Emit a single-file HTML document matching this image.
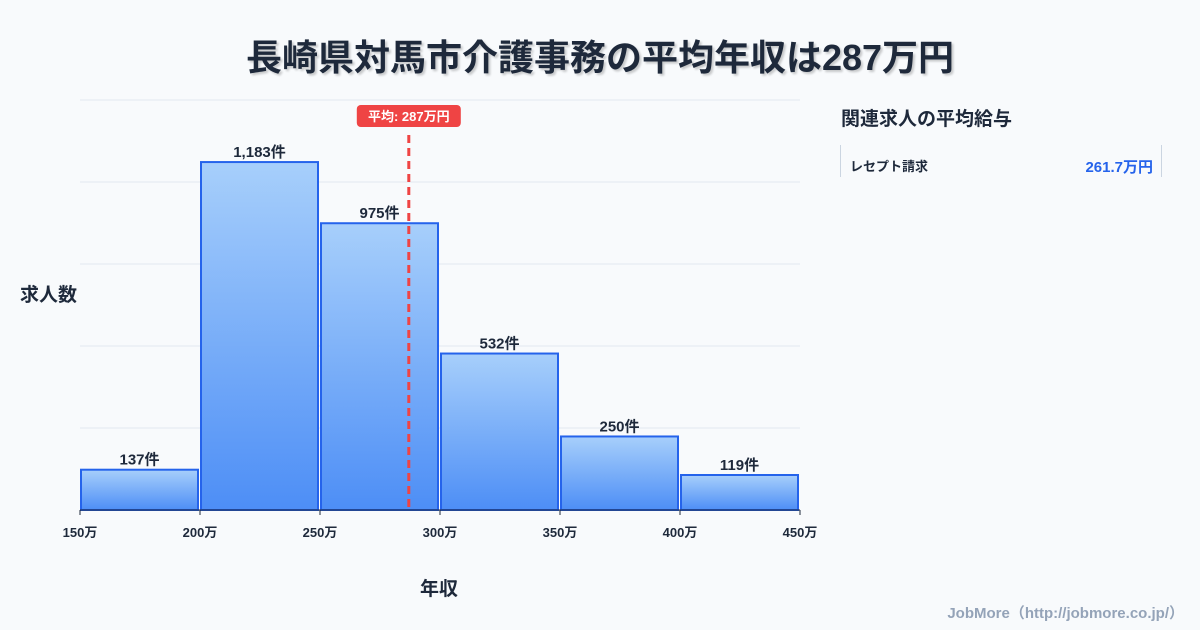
<!DOCTYPE html>
<html><head><meta charset="utf-8">
<style>
body{margin:0;width:1200px;height:630px;background:#f8fafc;font-family:"Liberation Sans","Noto Sans CJK JP",sans-serif;overflow:hidden;position:relative}
.t{position:absolute;white-space:nowrap}
</style></head><body>
<div class="t" style="left:0;width:1200px;top:29px;text-align:center;font-size:36px;font-weight:bold;color:#1e293b;text-shadow:2px 2px 2px rgba(0,0,0,0.2)">長崎県対馬市介護事務の平均年収は287万円</div>
<svg id="chart" width="1200" height="630" style="position:absolute;left:0;top:0">
<defs><linearGradient id="g" x1="0" y1="0" x2="0" y2="1"><stop offset="0" stop-color="#a7cffb"/><stop offset="1" stop-color="#4d8ef6"/></linearGradient></defs>
</svg>
<div class="t" style="left:20px;top:280px;font-size:19px;font-weight:bold;color:#1e293b">求人数</div>
<div class="t" style="left:420px;top:574px;font-size:19px;font-weight:bold;color:#1e293b">年収</div>
<div class="t" style="left:841px;top:104px;font-size:19px;font-weight:bold;color:#1e293b">関連求人の平均給与</div>
<div style="position:absolute;left:840px;top:145px;width:320px;height:32px;border-left:1px solid #cbd5e1;border-right:1px solid #cbd5e1">
<span class="t" style="left:9px;top:11px;font-size:13px;font-weight:bold;color:#1e293b">レセプト請求</span>
<span class="t" style="right:8px;top:11px;font-size:15px;font-weight:bold;color:#2563eb">261.7万円</span>
</div>
<div class="t" style="right:16px;top:602px;font-size:15px;font-weight:bold;color:#94a3b8">JobMore（http://jobmore.co.jp/）</div>
<script>
const binStarts=[150,200,250,300,350,400];
const counts=[137,1183,975,532,250,119];
const xTicks=[150,200,250,300,350,400,450];
const meanValue=287;
const yMax=1394;
const svg=document.getElementById('chart');
const NS='http://www.w3.org/2000/svg';
const X0=80,X1=800,Y0=510,Y1=100;
const xs=v=>X0+(v-150)/(450-150)*(X1-X0);
const ys=v=>Y0-v/yMax*(Y0-Y1);
function mk(tag,a){const e=document.createElementNS(NS,tag);for(const k in a)e.setAttribute(k,a[k]);svg.appendChild(e);return e;}
for(let i=0;i<=5;i++){const y=Y1+i*(Y0-Y1)/5;const l=mk('line',{x1:X0,x2:X1,y1:y,y2:y,stroke:'#e2e8f0','stroke-width':1});

}
counts.forEach((c,i)=>{const xa=xs(binStarts[i])+1,xb=xs(binStarts[i]+50)-2,y=ys(c);
const r=mk('rect',{x:xa,y:y,width:xb-xa,height:Y0-y,fill:'url(#g)',stroke:'#2563eb','stroke-width':2});


const t=mk('text',{x:(xa+xb)/2,y:y-5,'text-anchor':'middle','font-size':15,'font-weight':'bold',fill:'#1e293b'});
t.textContent=c.toLocaleString('en-US')+'件';

});
const ax=mk('line',{x1:X0,x2:X1,y1:Y0,y2:Y0,stroke:'#1e293b','stroke-width':1});


xTicks.forEach(v=>{const tk=mk('line',{x1:xs(v),x2:xs(v),y1:Y0,y2:Y0+5,stroke:'#1e293b'});


const t=mk('text',{x:xs(v),y:537,'text-anchor':'middle','font-size':13,'font-weight':'bold',fill:'#1e293b'});
t.textContent=v+'万';

});
const mx=xs(meanValue);
const ml=mk('line',{x1:mx,x2:mx,y1:135,y2:Y0,stroke:'#ef4444','stroke-width':3,'stroke-dasharray':'8,5'});


const mb=mk('rect',{x:mx-52,y:105,width:104,height:22,rx:4,fill:'#ef4444'});


const mt=mk('text',{x:mx,y:121,'text-anchor':'middle','font-size':13,'font-weight':'bold',fill:'#fff'});
mt.textContent='平均: '+meanValue+'万円';


</script>
</body></html>
